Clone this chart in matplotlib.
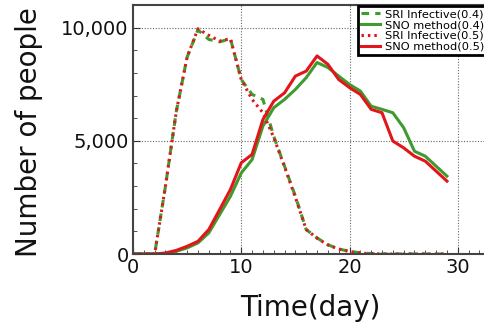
import matplotlib
matplotlib.use("Agg")
import matplotlib.pyplot as plt
from matplotlib.ticker import FuncFormatter, MultipleLocator

plt.rcParams['font.family'] = ['DejaVu Sans']

# days
days = list(range(0, 30))

# SRI infective curves (beta = 0.4 / 0.5)
sri_04 = [0, 0, 0, 3000, 6300, 8700, 9900, 9480, 9370, 9510, 7710, 7050, 6830, 5200,
          3880, 2550, 1080, 710, 410, 220, 120, 50, 20, 0, 0, 0, 0, 0, 0, 0]
sri_05 = [0, 0, 0, 3000, 6300, 8700, 9950, 9660, 9410, 9510, 7710, 6830, 6240, 5150,
          3850, 2500, 1080, 700, 400, 220, 110, 40, 15, 0, 0, 0, 0, 0, 0, 0]

# SNO method curves
sno_04 = [0, 0, 0, 15, 120, 270, 490, 930, 1740, 2550, 3580, 4170, 5650, 6460, 6830,
          7270, 7790, 8460, 8240, 7860, 7490, 7200, 6530, 6390, 6240, 5580, 4540, 4320,
          3880, 3440]
sno_05 = [0, 0, 0, 45, 160, 340, 560, 1080, 1960, 2850, 4030, 4400, 5940, 6750, 7120,
          7860, 8080, 8750, 8380, 7710, 7350, 7050, 6390, 6240, 4990, 4690, 4320, 4100,
          3660, 3220]

green = "#3f9b2e"
red = "#e0161b"

fig = plt.figure(figsize=(4.85, 3.24), dpi=100)
# right edge sits just past the image border, like the cropped original
ax = fig.add_axes([133 / 485, (324 - 254) / 324, 354 / 485, 249 / 324])

ax.plot(days, sri_04, color=green, lw=2.2, ls=(0, (2.5, 2)), label="SRI Infective(0.4)")
ax.plot(days, sno_04, color=green, lw=2.2, label="SNO method(0.4)")
ax.plot(days, sri_05, color=red, lw=2.2, ls=(0, (0.8, 1.3)), label="SRI Infective(0.5)")
ax.plot(days, sno_05, color=red, lw=2.2, label="SNO method(0.5)")

ax.set_xlim(0, 32.7)
ax.set_ylim(0, 11000)
ax.xaxis.set_major_locator(MultipleLocator(10))
ax.xaxis.set_minor_locator(MultipleLocator(1))
ax.yaxis.set_major_locator(MultipleLocator(5000))
ax.yaxis.set_minor_locator(MultipleLocator(1000))
ax.yaxis.set_major_formatter(FuncFormatter(lambda v, p: f"{int(v):,}"))
ax.tick_params(which="both", direction="in", colors="#333333", labelcolor="#111111", labelsize=14)
ax.tick_params(which="major", length=5, pad=3)
ax.tick_params(which="minor", length=3)
ax.grid(True, which="major", ls=(0, (1, 1.5)), color="#666666", lw=0.8)
for s in ax.spines.values():
    s.set_color("#444444")
    s.set_linewidth(1.5)

ax.set_xlabel("Time(day)", fontsize=20, color="#111111")
ax.set_ylabel("Number of people", fontsize=20, color="#111111")
ax.xaxis.set_label_coords(0.5, -0.16)
ax.yaxis.set_label_coords(-0.253, 0.49)

leg = ax.legend(loc="upper right", bbox_to_anchor=(1.0, 0.995), borderaxespad=0,
                fontsize=8.2, handlelength=1.7, handletextpad=0.4, borderpad=0.25,
                labelspacing=0.08, fancybox=False, framealpha=1)
leg.get_frame().set_edgecolor("black")
leg.get_frame().set_linewidth(2)

fig.savefig("out.png", dpi=100)
